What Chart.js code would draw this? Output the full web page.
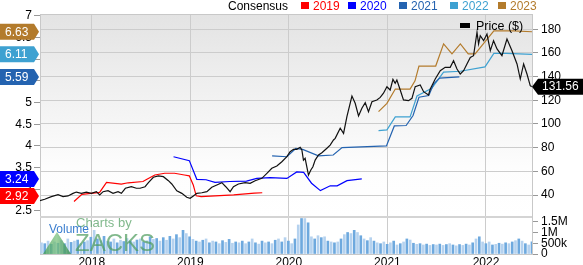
<!DOCTYPE html>
<html><head><meta charset="utf-8">
<script src="https://cdn.jsdelivr.net/npm/chart.js@4/dist/chart.umd.min.js"></script>
<style>html,body{margin:0;padding:0;background:#fff;overflow:hidden}#wrap{position:relative;width:583px;height:265px}</style>
</head><body><div id="wrap"><canvas id="c" width="583" height="265"></canvas></div>
<script>
// ---------- data ----------
const yearTicks = [2018, 2019, 2020, 2021, 2022];
const epsTicks = [2.5, 3, 3.5, 4, 4.5, 5, 5.5, 6, 6.5, 7];
const priceTicks = [40, 60, 80, 100, 120, 140, 160, 180];
const volTicks = [0, 500000, 1000000, 1500000];
const volTickLabels = ['0', '500k', '1M', '1.5M'];

const priceDates = [2017.472,2017.523,2017.590,2017.658,2017.709,2017.759,2017.810,2017.844,2017.894,2017.945,2017.996,
2018.047,2018.081,2018.115,2018.165,2018.216,2018.267,2018.301,2018.341,2018.402,2018.453,2018.490,2018.541,2018.575,2018.625,2018.676,2018.727,2018.778,2018.812,2018.863,2018.914,2018.964,2018.998,
2019.031,2019.066,2019.117,2019.168,2019.218,2019.269,2019.320,2019.360,2019.404,2019.438,2019.488,2019.556,2019.607,2019.658,2019.726,2019.777,2019.827,2019.878,2019.929,2019.980,
2020.013,2020.047,2020.081,2020.115,2020.132,2020.148,2020.165,2020.199,2020.223,2020.244,2020.267,2020.301,2020.335,2020.386,2020.419,2020.453,2020.470,2020.521,2020.555,2020.589,2020.640,2020.673,2020.707,2020.741,2020.775,2020.808,2020.843,2020.893,2020.927,2020.960,2020.995,
2021.028,2021.056,2021.079,2021.096,2021.130,2021.163,2021.214,2021.249,2021.282,2021.333,2021.367,2021.417,2021.435,2021.485,2021.536,2021.586,2021.637,2021.671,2021.706,2021.739,2021.773,2021.807,2021.841,2021.874,2021.909,2021.925,2021.942,2021.976,
2022.010,2022.044,2022.077,2022.112,2022.162,2022.213,2022.264,2022.315,2022.348,2022.382,2022.416,2022.449,2022.464];
const priceValues = [35.2,36.4,38.6,40.3,38.6,39.2,41.4,42.5,41.4,42.5,41.4,
42.8,40.0,42.8,43.6,41.4,42.8,41.4,45.7,47.0,45.7,45.7,47.0,50.4,55.0,56.1,55.5,52.1,49.3,43.6,41.4,38.1,37.2,
39.2,41.4,41.9,42.8,46.5,48.5,50.4,47.0,42.8,47.0,49.3,50.4,49.9,52.1,54.1,58.3,62.6,64.5,68.1,72.4,
76.6,78.6,78.6,80.3,78.0,69.5,71.0,56.9,61.1,63.9,69.5,73.8,75.7,79.5,82.2,86.5,87.9,96.4,92.1,106.2,123.6,117.5,106.8,113.3,118.0,110.4,118.8,120.3,122.5,126.0,131.5,
128.7,137.7,134.4,137.2,128.7,120.3,119.7,121.7,131.5,133.0,127.3,124.5,129.6,138.0,145.0,147.9,147.9,153.5,146.5,142.2,145.0,150.7,156.3,157.7,177.5,167.6,174.6,170.4,
176.0,161.9,170.4,163.4,157.7,171.8,161.9,150.7,138.0,150.7,142.2,132.4,131.56];
const lastPrice = 131.56;

const cons2019Dates = [2017.82,2017.90,2018.08,2018.15,2018.30,2018.37,2018.52,2018.56,2018.64,2018.74,2018.84,2018.94,2018.99,2019.03,2019.06,2019.11,2019.44,2019.65,2019.73];
const cons2019 = [2.72,2.885,2.93,3.16,3.12,3.15,3.18,3.23,3.33,3.37,3.37,3.33,3.31,3.10,2.85,2.83,2.87,2.91,2.92];
const cons2020Dates = [2018.83,2018.99,2019.066,2019.16,2019.25,2019.40,2019.57,2019.675,2019.81,2019.98,2020.08,2020.15,2020.23,2020.32,2020.42,2020.49,2020.59,2020.74];
const cons2020 = [3.75,3.66,3.23,3.22,3.16,3.18,3.19,3.25,3.27,3.25,3.40,3.39,3.14,2.97,3.08,3.08,3.20,3.24];
const cons2021Dates = [2019.83,2019.98,2020.07,2020.14,2020.30,2020.45,2020.54,2020.99,2021.07,2021.19,2021.26,2021.32,2021.42,2021.47,2021.53,2021.73];
const cons2021 = [3.77,3.75,3.94,3.92,3.77,3.79,3.96,4.00,4.46,4.47,4.70,5.12,5.16,5.43,5.56,5.59];
const cons2022Dates = [2020.91,2020.995,2021.08,2021.23,2021.30,2021.45,2021.57,2021.74,2021.99,2022.08,2022.21,2022.467];
const cons2022 = [4.35,4.37,4.67,4.67,5.15,5.33,5.70,5.72,5.82,6.13,6.13,6.11];
const cons2023Dates = [2020.91,2020.995,2021.08,2021.23,2021.28,2021.32,2021.49,2021.57,2021.655,2021.74,2021.82,2021.89,2022.08,2022.28,2022.467];
const cons2023 = [4.79,4.98,5.31,5.31,5.50,5.84,5.84,6.35,6.12,6.35,6.12,6.12,6.65,6.65,6.63];

const consensusYears = ['2019', '2020', '2021', '2022', '2023'];
const consensusFinal = [2.92, 3.24, 5.59, 6.11, 6.63];
const consensusColors = ['#ff0000', '#0000ff', '#2463b0', '#3ea1d1', '#b37b2c'];

const volStart = 2017.49, volStep = 0.0334;
const volumeK = [
520,480,600,450,560,500,620,480,700,540,600,650,480,560,620,
780,1100,700,620,820,600,560,700,520,640,580,720,600,560,650,
700,560,620,800,680,720,600,760,640,820,700,900,760,1100,950,
800,680,600,560,640,700,520,600,560,480,620,540,680,500,560,
520,600,480,560,700,520,460,600,520,560,480,640,700,560,760,
600,480,700,1350,1650,1650,1450,800,700,850,760,800,600,560,520,
560,700,900,1000,950,1100,1000,850,700,620,760,600,520,480,560,
450,520,600,420,480,560,700,650,500,450,480,420,460,400,440,
420,460,400,440,480,420,380,440,400,460,420,520,700,800,560,
480,560,420,450,500,460,520,480,560,620,700,600,480,420,560];

// ---------- drawing ----------
const F = '"Liberation Sans", Arial, Helvetica, sans-serif';
const pts = (xs, ys) => xs.map((x, i) => ({ x: x, y: ys[i] }));

const deco = {
  id: 'deco',
  beforeDraw(chart) {
    const { ctx, chartArea: a, scales } = chart;
    const yb = scales.yVol.top;
    ctx.save();
    const g = ctx.createLinearGradient(0, a.top, 0, yb);
    g.addColorStop(0, '#e3e3e3');
    g.addColorStop(0.75, '#fdfdfd');
    g.addColorStop(1, '#ffffff');
    ctx.fillStyle = g;
    ctx.fillRect(a.left, a.top, a.right - a.left, yb - a.top);
    ctx.restore();
  },
  beforeDatasetsDraw(chart) {
    const { ctx, chartArea: a, scales } = chart;
    const yb = scales.yVol.top;
    ctx.save();
    ctx.strokeStyle = '#d4d4d4';
    ctx.lineWidth = 2;
    ctx.beginPath(); ctx.moveTo(a.left, yb); ctx.lineTo(a.right, yb); ctx.stroke();
    ctx.strokeStyle = '#c8c8c8';
    ctx.lineWidth = 1;
    ctx.beginPath(); ctx.moveTo(a.left, a.top + 0.5); ctx.lineTo(a.right, a.top + 0.5); ctx.stroke();
    ctx.restore();
  },
  afterDatasetsDraw(chart) {
    const { ctx, chartArea: a, scales } = chart;
    const yb = scales.yVol.top;
    ctx.save();
    ctx.globalAlpha = 0.75;
    const mg = ctx.createLinearGradient(a.left + 3, 0, a.left + 30, 0);
    mg.addColorStop(0, '#3d9a4f'); mg.addColorStop(0.5, '#7cc27f'); mg.addColorStop(1, '#2f8a45');
    ctx.fillStyle = mg;
    ctx.beginPath();
    ctx.moveTo(a.left + 3, a.bottom);
    ctx.lineTo(a.left + 17, yb + 15);
    ctx.lineTo(a.left + 31, a.bottom);
    ctx.closePath(); ctx.fill();
    ctx.globalAlpha = 0.72;
    ctx.fillStyle = '#4f9c5e';
    ctx.font = '13px ' + F;
    ctx.textBaseline = 'alphabetic';
    ctx.fillText('Charts by', a.left + 36, yb + 10);
    ctx.font = '24px ' + F;
    ctx.fillText('ZACKS', a.left + 35, a.bottom - 3);
    ctx.globalAlpha = 1;
    ctx.fillStyle = '#3b7ecf';
    ctx.font = '12px ' + F;
    ctx.fillText('Volume', a.left + 9, yb + 16);
    ctx.restore();
  },
  afterDraw(chart) {
    const { ctx, chartArea: a, scales } = chart;
    ctx.save();
    ctx.font = '12px ' + F;
    ctx.textBaseline = 'alphabetic';
    ctx.fillStyle = '#000';
    ctx.fillText('Consensus', 228, 10);
    const sx = [301, 348, 399, 450, 498];
    consensusYears.forEach((t, i) => {
      ctx.fillStyle = consensusColors[i];
      ctx.fillRect(sx[i], 2, 8, 7);
      ctx.fillText(t, sx[i] + 12, 10);
    });
    ctx.fillStyle = '#000';
    ctx.fillRect(460, 23, 10, 5);
    ctx.font = '12.5px ' + F;
    ctx.fillText('Price ($)', 476, 30);
    const order = consensusFinal.map((v, i) => i).sort((p, q) => consensusFinal[q] - consensusFinal[p]);
    let prevBottom = -100;
    ctx.font = '12px ' + F;
    ctx.textBaseline = 'middle';
    order.forEach(i => {
      let y = scales.yEps.getPixelForValue(consensusFinal[i]);
      const h = 16;
      if (y - h / 2 < prevBottom + 1) y = prevBottom + 1 + h / 2;
      prevBottom = y + h / 2;
      ctx.fillStyle = consensusColors[i];
      ctx.beginPath();
      ctx.moveTo(0, y - h / 2); ctx.lineTo(34, y - h / 2); ctx.lineTo(39, y);
      ctx.lineTo(34, y + h / 2); ctx.lineTo(0, y + h / 2); ctx.closePath(); ctx.fill();
      ctx.fillStyle = '#fff';
      ctx.fillText(consensusFinal[i].toFixed(2), 5, y + 0.5);
    });
    const py = scales.yPrice.getPixelForValue(lastPrice);
    ctx.fillStyle = '#000';
    ctx.beginPath();
    ctx.moveTo(a.right, py); ctx.lineTo(a.right + 6, py - 8); ctx.lineTo(583, py - 8);
    ctx.lineTo(583, py + 8); ctx.lineTo(a.right + 6, py + 8); ctx.closePath(); ctx.fill();
    ctx.fillStyle = '#fff';
    ctx.fillText(lastPrice.toFixed(2), a.right + 10, py + 0.5);
    ctx.restore();
  }
};

const lineDs = (label, xs, ys, color, axis, w) => ({
  type: 'line', label: label, data: pts(xs, ys), yAxisID: axis,
  borderColor: color, borderWidth: w, pointRadius: 0, tension: 0, fill: false, order: 1
});

const tickFont = { family: F, size: 12 };

new Chart(document.getElementById('c'), {
  type: 'line',
  data: {
    datasets: [
      lineDs('Price ($)', priceDates, priceValues, '#111111', 'yPrice', 1.2),
      lineDs('2019', cons2019Dates, cons2019, consensusColors[0], 'yEps', 1.2),
      lineDs('2020', cons2020Dates, cons2020, consensusColors[1], 'yEps', 1.2),
      lineDs('2021', cons2021Dates, cons2021, consensusColors[2], 'yEps', 1.2),
      lineDs('2022', cons2022Dates, cons2022, consensusColors[3], 'yEps', 1.2),
      lineDs('2023', cons2023Dates, cons2023, consensusColors[4], 'yEps', 1.2),
      {
        type: 'bar', label: 'Volume', yAxisID: 'yVol', order: 10,
        data: volumeK.map((v, i) => ({ x: volStart + i * volStep, y: v * 1000 })),
        backgroundColor: volumeK.map((v, i) => i % 2 ? '#6ea9de' : '#b5d2ef'),
        barThickness: 2, borderWidth: 0
      }
    ]
  },
  options: {
    responsive: false, animation: false, devicePixelRatio: 1,
    layout: { padding: { top: 14, left: 0, right: 0, bottom: 0 } },
    plugins: { legend: { display: false }, tooltip: { enabled: false } },
    scales: {
      x: {
        type: 'linear', min: 2017.475, max: 2022.467, offset: false,
        afterBuildTicks: s => { s.ticks = yearTicks.map(v => ({ value: v })); },
        afterFit: s => { s.height = 11; },
        ticks: { callback: v => String(v), font: tickFont, color: '#000', autoSkip: false, maxRotation: 0, padding: 1 },
        grid: { color: '#cccccc', drawTicks: false, lineWidth: 1, offset: false },
        border: { display: true, color: '#c8c8c8' }
      },
      yEps: {
        position: 'left', min: 1.509, max: 7.039,
        afterBuildTicks: s => { s.ticks = epsTicks.map(v => ({ value: v })); },
        afterFit: s => { s.width = 40; },
        ticks: { callback: v => String(v), font: tickFont, color: '#000', autoSkip: false, padding: 2 },
        grid: { drawOnChartArea: false, tickLength: 6, tickColor: '#999999' },
        border: { display: true, color: '#c8c8c8' }
      },
      yPrice: {
        position: 'right', stack: 'right', stackWeight: 203, min: 21.42, max: 192.93,
        afterBuildTicks: s => { s.ticks = priceTicks.map(v => ({ value: v })); },
        afterFit: s => { s.width = 51; },
        ticks: { callback: v => String(v), font: tickFont, color: '#000', autoSkip: false, padding: 3 },
        grid: { color: '#cccccc', tickLength: 6, tickColor: '#999999' },
        border: { display: true, color: '#c8c8c8' }
      },
      yVol: {
        position: 'right', stack: 'right', stackWeight: 37, min: 0, max: 1720000,
        afterBuildTicks: s => { s.ticks = volTicks.map(v => ({ value: v })); },
        afterFit: s => { s.width = 51; },
        ticks: { callback: (v, i) => volTickLabels[i], font: tickFont, color: '#000', autoSkip: false, padding: 3 },
        grid: { drawOnChartArea: false, tickLength: 6, tickColor: '#999999' },
        border: { display: true, color: '#c8c8c8' }
      }
    }
  },
  plugins: [deco]
});
</script></body></html>
